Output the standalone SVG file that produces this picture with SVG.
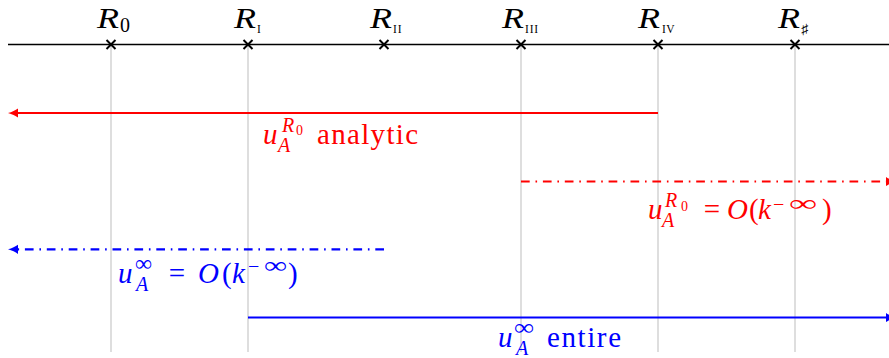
<svg xmlns="http://www.w3.org/2000/svg" width="889" height="358" viewBox="0 0 889 358" font-family="Liberation Serif, serif">
<defs>
<marker id="ar" markerUnits="userSpaceOnUse" markerWidth="12" markerHeight="12" viewBox="0 -6 12 12" refX="6" refY="0" orient="auto" overflow="visible">
<path d="M10,0 C6,-1 2.5,-2.8 0,-4.6 L0,4.6 C2.5,2.8 6,1 10,0 Z" fill="#ff0000"/>
</marker>
<marker id="ab" markerUnits="userSpaceOnUse" markerWidth="12" markerHeight="12" viewBox="0 -6 12 12" refX="6" refY="0" orient="auto" overflow="visible">
<path d="M10,0 C6,-1 2.5,-2.8 0,-4.6 L0,4.6 C2.5,2.8 6,1 10,0 Z" fill="#0000ff"/>
</marker>
</defs>

<g id="guides" stroke="#c8c8c8" stroke-width="1.2" fill="none">
<path d="M111,44 V352 M248,44 V352 M521,44 V352 M658,44 V352 M795,44 V352"/>
</g>

<g id="axis" stroke="#000" stroke-width="1.6" fill="none">
<path d="M8,44.5 H889"/>
</g>

<g id="ticks" stroke="#000" stroke-width="2" fill="none">
<path d="M106.5,40 L115.5,49 M106.5,49 L115.5,40"/>
<path d="M243.5,40 L252.5,49 M243.5,49 L252.5,40"/>
<path d="M379.5,40 L388.5,49 M379.5,49 L388.5,40"/>
<path d="M516.5,40 L525.5,49 M516.5,49 L525.5,40"/>
<path d="M653.5,40 L662.5,49 M653.5,49 L662.5,40"/>
<path d="M790.5,40 L799.5,49 M790.5,49 L799.5,40"/>
</g>

<g id="R0" fill="#000" font-family="Liberation Serif, serif">
<text x="97" y="27.5" font-size="29" font-style="italic" textLength="22" lengthAdjust="spacingAndGlyphs">R</text>
<text x="120" y="32" font-size="20">0</text>
</g>
<g id="RI" fill="#000" font-family="Liberation Serif, serif">
<text x="234" y="27.5" font-size="29" font-style="italic" textLength="22" lengthAdjust="spacingAndGlyphs">R</text>
<text x="257" y="33" font-size="11.5">I</text>
</g>
<g id="RII" fill="#000" font-family="Liberation Serif, serif">
<text x="370" y="27.5" font-size="29" font-style="italic" textLength="22" lengthAdjust="spacingAndGlyphs">R</text>
<text x="393" y="33" font-size="11.5" letter-spacing="0.8">II</text>
</g>
<g id="RIII" fill="#000" font-family="Liberation Serif, serif">
<text x="502" y="27.5" font-size="29" font-style="italic" textLength="22" lengthAdjust="spacingAndGlyphs">R</text>
<text x="525" y="33" font-size="11.5" letter-spacing="0.8">III</text>
</g>
<g id="RIV" fill="#000" font-family="Liberation Serif, serif">
<text x="638" y="27.5" font-size="29" font-style="italic" textLength="22" lengthAdjust="spacingAndGlyphs">R</text>
<text x="662" y="33" font-size="11.5" letter-spacing="0.5">IV</text>
</g>
<g id="Rsharp" fill="#000" font-family="Liberation Serif, serif">
<text x="778" y="27.5" font-size="29" font-style="italic" textLength="22" lengthAdjust="spacingAndGlyphs">R</text>
<text x="801" y="34" font-size="14">♯</text>
</g>

<g id="connectors" stroke-width="2.2" fill="none">
<path d="M658,113 H12" stroke="#ff0000" marker-end="url(#ar)"/>
<path d="M521,181.5 H892" stroke="#ff0000" stroke-dasharray="8.7 5.8 1.6 5.8" marker-end="url(#ar)"/>
<path d="M384,249.3 H12" stroke="#0000ff" stroke-dasharray="8.7 5.8 1.6 5.8" marker-end="url(#ab)"/>
<path d="M248,317.5 H892" stroke="#0000ff" marker-end="url(#ab)"/>
</g>

<g id="label-analytic" fill="#ff0000" font-family="Liberation Serif, serif">
<text x="263" y="144" font-size="29" font-style="italic">u</text>
<text x="278" y="152" font-size="20" font-style="italic">A</text>
<text x="282" y="132" font-size="20" font-style="italic">R</text>
<text x="296" y="135" font-size="14">0</text>
<text x="317" y="144" font-size="29" textLength="101">analytic</text>
</g>

<g id="label-red-O" fill="#ff0000" font-family="Liberation Serif, serif">
<text x="648" y="219" font-size="29" font-style="italic">u</text>
<text x="662" y="227" font-size="20" font-style="italic">A</text>
<text x="665" y="207" font-size="20" font-style="italic">R</text>
<text x="681" y="211" font-size="14">0</text>
<text x="712" y="219" font-size="29" text-anchor="middle">=</text>
<text x="727" y="219" font-size="29" font-style="italic">O</text>
<text x="749" y="219" font-size="29">(</text>
<text x="758" y="219" font-size="29" font-style="italic">k</text>
<text x="773" y="211" font-size="20">−</text>
<text x="789" y="211" font-size="23" textLength="28" lengthAdjust="spacingAndGlyphs">∞</text>
<text x="822" y="219" font-size="29">)</text>
</g>

<g id="label-blue-O" fill="#0000ff" font-family="Liberation Serif, serif">
<text x="118" y="283" font-size="29" font-style="italic">u</text>
<text x="135" y="271" font-size="23" textLength="17" lengthAdjust="spacingAndGlyphs">∞</text>
<text x="136" y="291" font-size="20" font-style="italic">A</text>
<text x="177" y="283" font-size="29" text-anchor="middle">=</text>
<text x="198" y="283" font-size="29" font-style="italic">O</text>
<text x="222" y="283" font-size="29">(</text>
<text x="232" y="283" font-size="29" font-style="italic">k</text>
<text x="248" y="273" font-size="20">−</text>
<text x="264" y="273" font-size="23" textLength="23" lengthAdjust="spacingAndGlyphs">∞</text>
<text x="288" y="283" font-size="29">)</text>
</g>

<g id="label-entire" fill="#0000ff" font-family="Liberation Serif, serif">
<text x="498" y="347" font-size="29" font-style="italic">u</text>
<text x="514" y="335" font-size="23" textLength="20" lengthAdjust="spacingAndGlyphs">∞</text>
<text x="516" y="355" font-size="20" font-style="italic">A</text>
<text x="547" y="347" font-size="29" textLength="74">entire</text>
</g>
</svg>
